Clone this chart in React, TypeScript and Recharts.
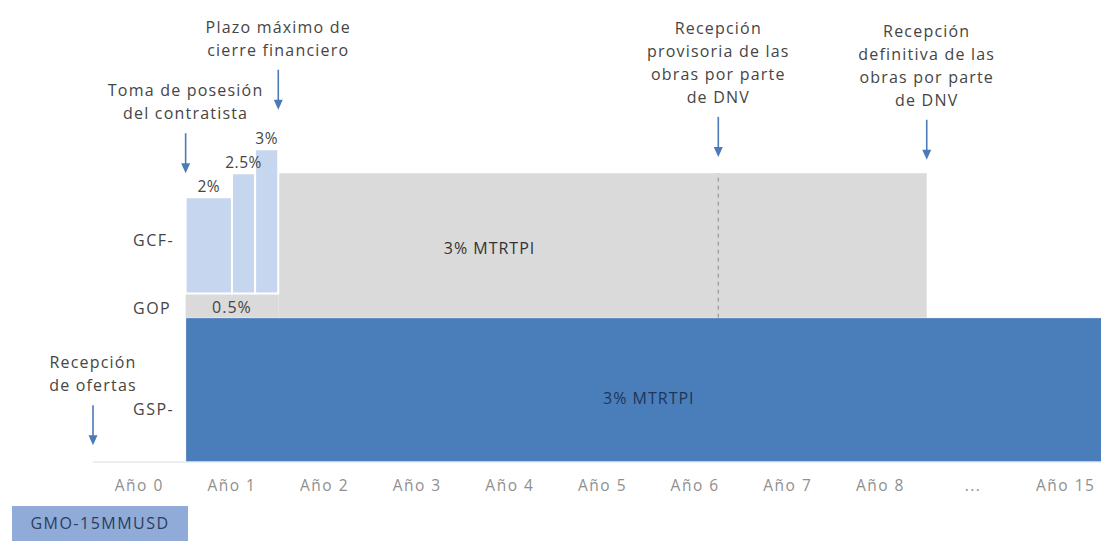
import React from 'react';
import {
    ComposedChart, XAxis, YAxis,
    ReferenceArea, ReferenceLine, ReferenceDot,
} from 'recharts';

// timeline slots, one band per year
const years = ['Año 0', 'Año 1', 'Año 2', 'Año 3', 'Año 4', 'Año 5', 'Año 6', 'Año 7', 'Año 8', '...', 'Año 15'];

// guarantee levels (% of MTRTPI), stacked bottom-up: GSP, then GOP, then GCF
const gspLevel = 3;
const gopLevel = 0.5;
const mtrtpiLevel = 3;

// time spans, in year slots
const gspSpan = [1, 11];
const gopSpan = [1, 2];
const mtrtpiSpan = [2, 9];

// GCF steps during year 1
const gcfSteps = [
    { from: 1, to: 1.5, value: 2, label: '2%' },
    { from: 1.5, to: 1.75, value: 2.5, label: '2.5%' },
    { from: 1.75, to: 2, value: 3, label: '3%' },
];

// row names on the vertical axis
const rowNames = ['GSP-', 'GOP', 'GCF-'];
const rowTicks = [1.1, 3.2, 4.6];

// milestones along the timeline
const milestones = [
    { at: 0, text: ['Recepción', 'de ofertas'] },
    { at: 1, text: ['Toma de posesión', 'del contratista'] },
    { at: 2, text: ['Plazo máximo de', 'cierre financiero'] },
    { at: 6.75, text: ['Recepción', 'provisoria de las', 'obras por parte', 'de DNV'] },
    { at: 9, text: ['Recepción', 'definitiva de las', 'obras por parte', 'de DNV'] },
];
const provisionalAt = 6.75;

// where each milestone arrow points to (y units)
const ARROW_TIPS = [0.35, 6.0, 7.32, 6.34, 6.28];
const ARROW_LEN = 40;

const BLUE = '#4a7ebb';
const LIGHT_BLUE = '#c6d6ee';
const GREY = '#dadada';
const ARROW = '#4a7bb7';
const TEXT = '#454545';

const font = '"Open Sans", sans-serif';

function MilestoneMark(props: any) {
    const { cx, cy, lines } = props;
    const top = cy - ARROW_LEN;
    return (
        <g>
            <line x1={cx} y1={top} x2={cx} y2={cy - 8} stroke={ARROW} strokeWidth={1.6} />
            <path d={`M${cx - 4.5},${cy - 10} L${cx + 4.5},${cy - 10} L${cx},${cy} Z`} fill={ARROW} />
            <text textAnchor="middle" fontSize={16} fill={TEXT} letterSpacing={1.2} fontFamily={font}>
                {lines.map((l: string, i: number) => (
                    <tspan key={i} x={cx} y={top - 14 - (lines.length - 1 - i) * 23}>{l}</tspan>
                ))}
            </text>
        </g>
    );
}

export default function App() {
    const data = years.map((name, i) => ({ pos: i + 0.5, name }));
    const gopTop = gspLevel + gopLevel;

    return (
        <div style={{ position: 'absolute', left: 0, top: 0, width: 1101, height: 541, overflow: 'hidden', background: '#fff', fontFamily: font }}>
            <ComposedChart width={1112} height={541} data={data} margin={{ top: 0, right: 0, bottom: 49, left: 93 }}>
                <XAxis
                    xAxisId="edges"
                    type="number"
                    dataKey="pos"
                    domain={[0, 11]}
                    ticks={[1, 2, 3, 4, 5, 6, 7, 8, 9, 10]}
                    tickFormatter={() => ''}
                    mirror
                    height={0}
                    tickSize={5}
                    axisLine={false}
                    tickLine={{ stroke: '#a9c0e2' }}
                />
                <XAxis
                    type="number"
                    dataKey="pos"
                    domain={[0, 11]}
                    ticks={years.map((_, i) => i + 0.5)}
                    tickFormatter={(v: number) => years[Math.round(v - 0.5)]}
                    height={30}
                    tickSize={0}
                    tickMargin={18}
                    axisLine={{ stroke: '#d6dde6' }}
                    tick={{ fill: '#8f8f8f', fontSize: 15.5, letterSpacing: 1.5 }}
                    interval={0}
                />
                <YAxis
                    type="number"
                    domain={[0, 9.6]}
                    allowDataOverflow
                    ticks={rowTicks}
                    tickFormatter={(v: number) => rowNames[rowTicks.indexOf(v)]}
                    mirror
                    tickSize={0}
                    tickMargin={40}
                    axisLine={false}
                    tick={{ fill: TEXT, fontSize: 16, letterSpacing: 1.5 }}
                />

                {/* GSP: full term */}
                <ReferenceArea
                    x1={gspSpan[0]} x2={gspSpan[1]} y1={0} y2={gspLevel}
                    fill={BLUE} fillOpacity={1} stroke="#fff" strokeWidth={1}
                    ifOverflow="visible"
                    label={{ value: `${gspLevel}% MTRTPI`, position: 'center', dy: 9, fill: '#1d3557', fontSize: 16, letterSpacing: 1 }}
                />
                {/* GOP during year 1 */}
                <ReferenceArea
                    x1={gopSpan[0]} x2={gopSpan[1]} y1={gspLevel} y2={gopTop}
                    fill={GREY} fillOpacity={1}
                    label={{ value: `${gopLevel}%`, position: 'center', dy: 2, fill: TEXT, fontSize: 16, letterSpacing: 1 }}
                />
                {/* MTRTPI guarantee after year 1 */}
                <ReferenceArea
                    x1={mtrtpiSpan[0]} x2={mtrtpiSpan[1]} y1={gspLevel} y2={gspLevel + mtrtpiLevel}
                    fill={GREY} fillOpacity={1}
                    label={{ value: `${mtrtpiLevel}% MTRTPI`, position: 'center', dx: -113, dy: 3, fill: '#333', fontSize: 16, letterSpacing: 1 }}
                />
                {/* GCF steps */}
                {gcfSteps.map((s) => (
                    <ReferenceArea
                        key={s.label}
                        x1={s.from} x2={s.to} y1={gopTop} y2={gopTop + s.value}
                        fill={LIGHT_BLUE} fillOpacity={1} stroke="#fff" strokeWidth={2}
                        label={{ value: s.label, position: 'top', offset: 5, fill: TEXT, fontSize: 15.5, letterSpacing: 0.5 }}
                    />
                ))}

                <ReferenceLine
                    segment={[{ x: provisionalAt, y: gspLevel }, { x: provisionalAt, y: gspLevel + mtrtpiLevel }]}
                    stroke="#8c8c8c"
                    strokeDasharray="4 4"
                />

                {milestones.map((m, i) => (
                    <ReferenceDot
                        key={i}
                        x={m.at}
                        y={ARROW_TIPS[i]}
                        ifOverflow="visible"
                        shape={(p: any) => <MilestoneMark {...p} lines={m.text} />}
                    />
                ))}
            </ComposedChart>

            <div style={{
                position: 'absolute', left: 12, top: 506, width: 176, height: 40,
                background: '#91abd9', color: '#2a3d5e', fontSize: 16, letterSpacing: 1.5,
                lineHeight: '35px', textAlign: 'center',
            }}>
                GMO-15MMUSD
            </div>
        </div>
    );
}
